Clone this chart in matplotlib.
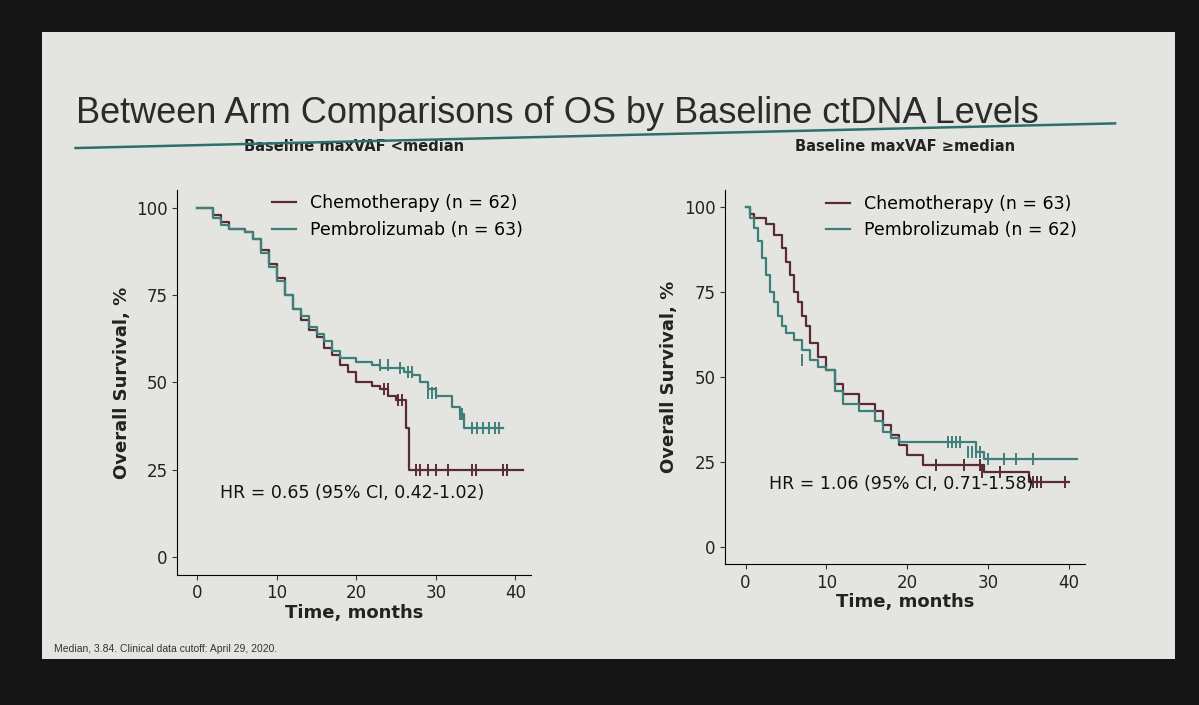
import matplotlib.pyplot as plt
from matplotlib.patches import Rectangle

chemo_color = '#5a2a35'
pembro_color = '#3f7f7a'

# left panel: baseline maxVAF < median
l_chemo_t = [0, 1.5, 2, 3, 4, 6, 7, 8, 9, 10, 11, 12, 13, 14, 15, 16, 17, 18, 19, 20, 22, 23, 24, 25, 26, 26.3, 26.6, 41]
l_chemo_s = [100, 100, 98, 96, 94, 93, 91, 88, 84, 80, 75, 71, 68, 65, 63, 60, 58, 55, 53, 50, 49, 48, 46, 45, 45, 37, 25, 25]
l_chemo_cens_t = [23.5, 24, 25.3, 25.8, 27.5, 28, 29, 30, 31.5, 34.5, 35, 38.5, 39]
l_chemo_cens_s = [48, 48, 45, 45, 25, 25, 25, 25, 25, 25, 25, 25, 25]
l_pem_t = [0, 1.5, 2, 3, 4, 6, 7, 8, 9, 10, 11, 12, 13, 14, 15, 16, 17, 18, 19, 20, 21, 22, 23, 25, 26, 27, 28, 29, 30, 31, 32, 33, 33.5, 38.5]
l_pem_s = [100, 100, 97, 95, 94, 93, 91, 87, 83, 79, 75, 71, 69, 66, 64, 62, 59, 57, 57, 56, 56, 55, 54, 54, 53, 52, 50, 48, 46, 46, 43, 41, 37, 37]
l_pem_cens_t = [23, 24, 25.5, 26.5, 27, 29, 29.5, 30, 33, 33.3, 34.5, 35.2, 36, 36.7, 37.4, 38]
l_pem_cens_s = [55, 55, 54, 53, 53, 47, 47, 47, 41, 41, 37, 37, 37, 37, 37, 37]

# right panel: baseline maxVAF >= median
r_chemo_t = [0, 0.5, 1, 2.5, 3.5, 4.5, 5, 5.5, 6, 6.5, 7, 7.5, 8, 9, 10, 11, 12, 14, 16, 17, 18, 19, 20, 22, 29.5, 35, 40]
r_chemo_s = [100, 98, 97, 95, 92, 88, 84, 80, 75, 72, 68, 65, 60, 56, 52, 48, 45, 42, 40, 36, 33, 30, 27, 24, 22, 19, 19]
r_chemo_cens_t = [23.5, 27, 29, 29.3, 31.5, 35.5, 36, 36.6, 39.5]
r_chemo_cens_s = [24, 24, 24, 22, 22, 19, 19, 19, 19]
r_pem_t = [0, 0.5, 1, 1.5, 2, 2.5, 3, 3.5, 4, 4.5, 5, 6, 7, 8, 9, 10, 11, 12, 14, 16, 17, 18, 19, 27, 28.5, 29.5, 41]
r_pem_s = [100, 97, 94, 90, 85, 80, 75, 72, 68, 65, 63, 61, 58, 55, 53, 52, 46, 42, 40, 37, 34, 32, 31, 31, 28, 26, 26]
r_pem_cens_t = [7, 25, 25.5, 26, 26.5, 27.5, 28, 28.5, 29, 30, 32, 33.5, 35.5]
r_pem_cens_s = [55, 31, 31, 31, 31, 28, 28, 28, 28, 26, 26, 26, 26]

fig = plt.figure(figsize=(11.99, 7.05), dpi=100, facecolor='#151515')
fig.patches.append(Rectangle((0.035, 0.065), 0.945, 0.89, transform=fig.transFigure,
                             facecolor='#e4e5e1', edgecolor='none', zorder=-10))
fig.text(0.063, 0.825, 'Between Arm Comparisons of OS by Baseline ctDNA Levels',
         fontsize=26, color='#2b2b2b', family='Liberation Sans')
fig.lines.append(plt.Line2D([0.063, 0.93], [0.79, 0.825], transform=fig.transFigure,
                            color='#2f6f6a', lw=1.8))
fig.text(0.045, 0.075, 'Median, 3.84. Clinical data cutoff: April 29, 2020.',
         fontsize=7.5, color='#333333', family='Liberation Sans')

panels = [
    (fig.add_axes([0.148, 0.185, 0.295, 0.545]), 'Baseline maxVAF <median',
     l_chemo_t, l_chemo_s, l_chemo_cens_t, l_chemo_cens_s,
     l_pem_t, l_pem_s, l_pem_cens_t, l_pem_cens_s, 62, 63, 'HR = 0.65 (95% CI, 0.42-1.02)'),
    (fig.add_axes([0.605, 0.20, 0.30, 0.53]), 'Baseline maxVAF \u2265median',
     r_chemo_t, r_chemo_s, r_chemo_cens_t, r_chemo_cens_s,
     r_pem_t, r_pem_s, r_pem_cens_t, r_pem_cens_s, 63, 62, 'HR = 1.06 (95% CI, 0.71-1.58)'),
]

for ax, title, ct, cs, cct, ccs, pt, ps, pct, pcs, nc, npm, hr in panels:
    ax.set_facecolor('none')
    ax.step(ct, cs, where='post', color=chemo_color, lw=1.6,
            label='Chemotherapy (n = %d)' % nc)
    ax.step(pt, ps, where='post', color=pembro_color, lw=1.6,
            label='Pembrolizumab (n = %d)' % npm)
    ax.plot(cct, ccs, '|', color=chemo_color, ms=8, mew=1.4)
    ax.plot(pct, pcs, '|', color=pembro_color, ms=8, mew=1.4)
    ax.set_xlim(-2.5, 42)
    ax.set_ylim(-5, 105)
    ax.set_xticks([0, 10, 20, 30, 40])
    ax.set_yticks([0, 25, 50, 75, 100])
    ax.spines['top'].set_visible(False)
    ax.spines['right'].set_visible(False)
    ax.tick_params(labelsize=12, color='#333333', labelcolor='#222222')
    ax.set_xlabel('Time, months', fontsize=13, fontweight='bold', color='#222222', labelpad=1)
    ax.set_ylabel('Overall Survival, %', fontsize=13, fontweight='bold', color='#222222')
    ax.set_title(title, fontsize=10.5, fontweight='bold', color='#222222', pad=28)
    ax.text(0.12, 0.2, hr, transform=ax.transAxes, fontsize=12.5, color='#111111')
    ax.legend(loc='upper right', frameon=False, fontsize=12.5, handlelength=1.4,
              bbox_to_anchor=(1.02, 1.03))

fig.savefig('out.png', dpi=100, facecolor=fig.get_facecolor())
